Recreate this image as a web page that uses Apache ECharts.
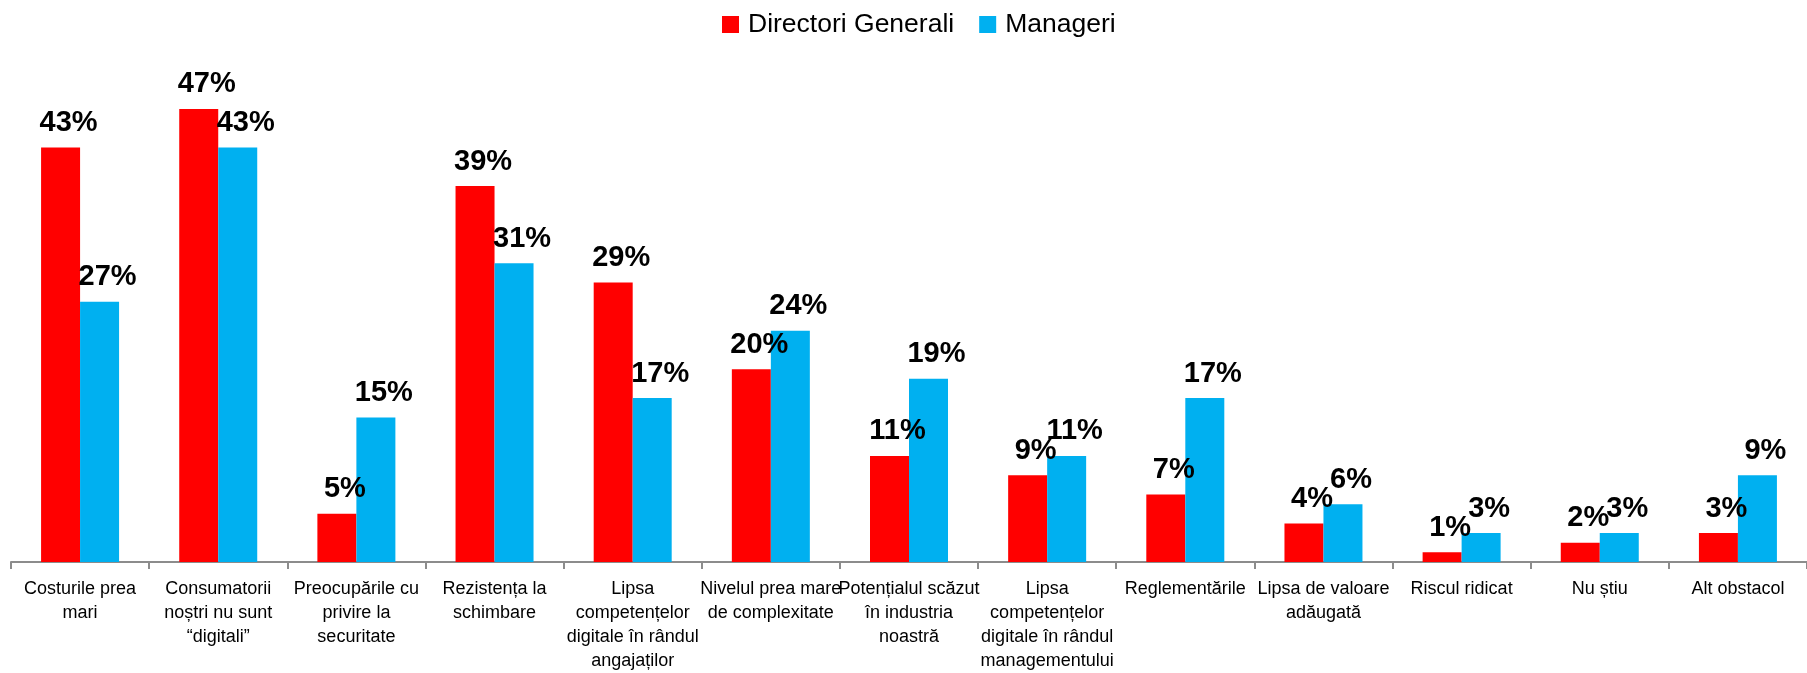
<!DOCTYPE html>
<head>
    <meta charset="utf-8">
    <title>Obstacole</title>
    <script src="https://cdn.jsdelivr.net/npm/echarts@6/dist/echarts.min.js"></script>
    <style>
        html, body { margin: 0; padding: 0; background: #fff; }
    </style>
</head>
<body>
    <div id="chart" style="width:1807px;height:673px"></div>
    <script type="text/javascript">
        // categorii si valori (%)
        var categorii = [
            'Costurile prea\nmari',
            'Consumatorii\nnoștri nu sunt\n“digitali”',
            'Preocupările cu\nprivire la\nsecuritate',
            'Rezistența la\nschimbare',
            'Lipsa\ncompetențelor\ndigitale în rândul\nangajaților',
            'Nivelul prea mare\nde complexitate',
            'Potențialul scăzut\nîn industria\nnoastră',
            'Lipsa\ncompetențelor\ndigitale în rândul\nmanagementului',
            'Reglementările',
            'Lipsa de valoare\nadăugată',
            'Riscul ridicat',
            'Nu știu',
            'Alt obstacol'
        ];
        var directori = [43, 47, 5, 39, 29, 20, 11, 9, 7, 4, 1, 2, 3];
        var manageri = [27, 43, 15, 31, 17, 24, 19, 11, 17, 6, 3, 3, 9];

        var font = '"Liberation Sans", Arial, sans-serif';

        var myChart = echarts.init(document.getElementById('chart'));

        var etichete = {
            show: true,
            position: 'top',
            distance: 10,
            offset: [8, 0],
            formatter: '{c}%',
            fontFamily: font,
            fontWeight: 'bold',
            fontSize: 29,
            color: '#000'
        };

        var option = {
            animation: false,
            legend: {
                data: ['Directori Generali', 'Manageri'],
                top: 6,
                left: 717,
                itemWidth: 17,
                itemHeight: 17,
                itemGap: 25,
                icon: 'rect',
                textStyle: { fontFamily: font, fontSize: 26.5, color: '#000', padding: [0, 0, 0, 4] }
            },
            grid: { left: 11, right: 0, top: 80, bottom: 110, containLabel: false },
            xAxis: [{
                type: 'category',
                data: categorii,
                axisLine: { lineStyle: { color: '#8c8c8c', width: 2 } },
                axisTick: { show: true, length: 7, lineStyle: { color: '#8c8c8c', width: 2 } },
                axisLabel: {
                    interval: 0,
                    margin: 15,
                    fontFamily: font,
                    fontSize: 18,
                    lineHeight: 24,
                    color: '#000',
                    align: 'center'
                }
            }],
            yAxis: [{
                type: 'value',
                min: 0,
                max: 50,
                show: false,
                splitLine: { show: false }
            }],
            series: [
                {
                    name: 'Directori Generali',
                    type: 'bar',
                    data: directori,
                    barWidth: 39,
                    barGap: '0%',
                    itemStyle: { color: '#ff0000' },
                    label: etichete
                },
                {
                    name: 'Manageri',
                    type: 'bar',
                    data: manageri,
                    barWidth: 39,
                    barGap: '0%',
                    itemStyle: { color: '#00b0f0' },
                    label: etichete
                }
            ]
        };

        myChart.setOption(option);
    </script>
</body>
